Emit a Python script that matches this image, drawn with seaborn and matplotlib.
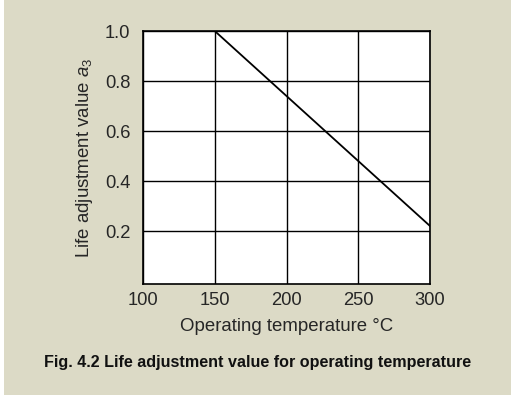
import matplotlib
matplotlib.use("Agg")
import matplotlib.pyplot as plt
import matplotlib.patches as mpatches
import pandas as pd
import seaborn as sns

# Données
temperature = [150, 300]
valeur_a3 = [1.0, 0.22]
xticks = [100, 150, 200, 250, 300]
yticks = [0.2, 0.4, 0.6, 0.8, 1.0]

df = pd.DataFrame({"temp": temperature, "a3": valeur_a3})

sns.set_style("white")
plt.rcParams["font.family"] = ["Liberation Sans", "DejaVu Sans"]
plt.rcParams["mathtext.fontset"] = "custom"
plt.rcParams["mathtext.it"] = "Liberation Sans:italic"
plt.rcParams["mathtext.rm"] = "Liberation Sans"

beige = "#dcdac6"
fig = plt.figure(figsize=(5.11, 3.97), dpi=100, facecolor="white")
fig.patches.append(mpatches.Rectangle((4 / 511, 2 / 397), 1, 1, transform=fig.transFigure,
                                      facecolor=beige, edgecolor="none", zorder=-10))
ax = fig.add_axes([143 / 511, 1 - 284 / 397, 287 / 511, 253 / 397])
ax.set_facecolor("white")

sns.lineplot(data=df, x="temp", y="a3", ax=ax, color="black", linewidth=1.3)

ax.set_xlim(100, 300)
ax.set_ylim(-0.012, 1.0)
ax.set_xticks(xticks)
ax.set_yticks(yticks)
ax.set_xticklabels([str(t) for t in xticks], fontsize=13.2)
ax.set_yticklabels([f"{t:.1f}" for t in yticks], fontsize=13.2)
ax.tick_params(axis="y", direction="out", length=6, width=1, color="black", pad=3)
ax.tick_params(axis="x", direction="out", length=4, width=1, color="black", pad=2)
ax.grid(True, color="black", linewidth=1)
for s in ax.spines.values():
    s.set_color("black")
    s.set_linewidth(1.2)

ax.set_xlabel("Operating temperature \u00b0C", fontsize=13.4, labelpad=6)
ax.set_ylabel("Life adjustment value $a_3$", fontsize=13.4, labelpad=7)

fig.text(258 / 511, 1 - 363 / 397, "Fig. 4.2 Life adjustment value for operating temperature",
         ha="center", va="center", fontsize=11.6, fontweight="bold", color="#111111",
         family=["Liberation Sans Narrow", "Liberation Sans"])

fig.savefig("out.png", dpi=100, facecolor=fig.get_facecolor())
